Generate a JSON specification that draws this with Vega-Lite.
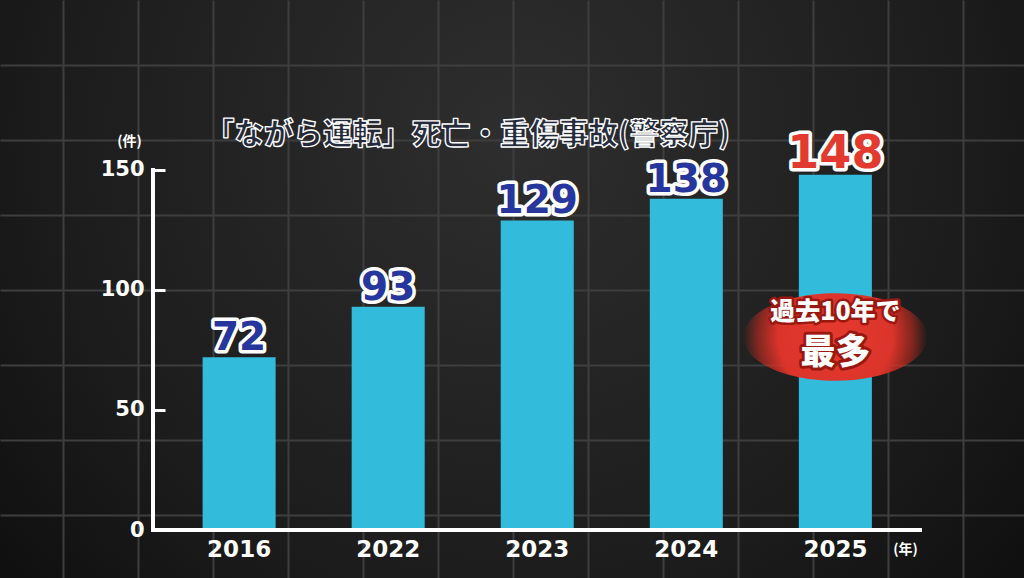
{
  "$schema": "https://vega.github.io/schema/vega-lite/v6.json",
  "width": 1024,
  "height": 578,
  "autosize": {"type": "none"},
  "padding": 0,
  "background": "#111111",
  "title": {
    "text": "「ながら運転」死亡・重傷事故(警察庁)",
    "anchor": "start",
    "frame": "group",
    "dx": 205,
    "offset": -179,
    "baseline": "bottom",
    "font": "Noto Sans CJK JP",
    "fontSize": 29.5,
    "fontWeight": 900,
    "color": "#262b3c",
    "encoding": {
      "stroke": {"value": "#ffffff"},
      "strokeWidth": {"value": 1.3},
      "strokeJoin": {"value": "round"}
    }
  },
  "config": {
    "view": {
      "stroke": null,
      "fill": {
        "gradient": "radial",
        "x1": 0.5, "y1": 0.35, "r1": 0,
        "x2": 0.5, "y2": 0.35, "r2": 0.75,
        "stops": [
          {"offset": 0, "color": "#2e2e2e"},
          {"offset": 0.6, "color": "#1c1c1c"},
          {"offset": 1, "color": "#0a0a0a"}
        ]
      }
    }
  },
  "data": {
    "values": [
      {"year": "2016", "count": 72},
      {"year": "2022", "count": 93},
      {"year": "2023", "count": 129},
      {"year": "2024", "count": 138},
      {"year": "2025", "count": 148, "note": "過去10年で", "note2": "最多"}
    ]
  },
  "layer": [
    {
      "layer": [
        {
          "mark": {"type": "bar", "color": "#32bbdb"},
          "encoding": {
            "x": {
              "field": "year",
              "type": "nominal",
              "scale": {"range": [202.6, 871.9], "paddingInner": 0.51, "paddingOuter": 0},
              "axis": {
                "orient": "bottom",
                "offset": -48,
                "domain": false,
                "ticks": false,
                "grid": false,
                "labelAngle": 0,
                "labelColor": "#ffffff",
                "labelFont": "DejaVu Sans",
                "labelFontWeight": "bold",
                "labelFontSize": 23,
                "labelPadding": 8,
                "title": "(年)",
                "titleX": 905,
                "titleY": 19,
                "titleAlign": "center",
                "titleBaseline": "middle",
                "titleColor": "#ffffff",
                "titleFont": "Noto Sans CJK JP",
                "titleFontSize": 14,
                "titleFontWeight": "bold"
              }
            },
            "y": {
              "field": "count",
              "type": "quantitative",
              "scale": {"domain": [-20, 220.8333], "nice": false, "zero": false},
              "axis": {
                "orient": "left",
                "offset": -153,
                "values": [0, 50, 100, 150],
                "domain": false,
                "grid": false,
                "ticks": true,
                "tickSize": -12,
                "tickWidth": 3,
                "tickColor": "#ffffff",
                "labelColor": "#ffffff",
                "labelFont": "DejaVu Sans",
                "labelFontWeight": "bold",
                "labelFontSize": 21,
                "labelPadding": 21,
                "title": "(件)",
                "titleAngle": 0,
                "titleX": -24,
                "titleY": 141,
                "titleAlign": "center",
                "titleBaseline": "middle",
                "titleColor": "#ffffff",
                "titleFont": "Noto Sans CJK JP",
                "titleFontSize": 14,
                "titleFontWeight": "bold"
              }
            },
            "y2": {"datum": 0}
          }
        },
        {
          "transform": [{"filter": "isValid(datum.note)"}],
          "mark": {
            "type": "point",
            "shape": "M -1 0 A 1 0.475 0 1 1 1 0 A 1 0.475 0 1 1 -1 0 Z",
            "filled": true,
            "size": 34000,
            "opacity": 1,
            "strokeWidth": 0,
            "fill": {
              "gradient": "radial",
              "x1": 0.5, "y1": 0.5, "r1": 0,
              "x2": 0.5, "y2": 0.5, "r2": 0.5,
              "stops": [
                {"offset": 0, "color": "#e53a2e"},
                {"offset": 0.62, "color": "#db342b"},
                {"offset": 0.84, "color": "rgba(210,45,32,0.55)"},
                {"offset": 1, "color": "rgba(210,45,32,0)"}
              ]
            }
          },
          "encoding": {
            "x": {"field": "year", "type": "nominal"},
            "y": {"datum": 80.4}
          }
        },
        {
          "transform": [{"filter": "isValid(datum.note)"}],
          "mark": {"type": "text", "font": "Noto Sans CJK JP", "fontWeight": 900, "fontSize": 25, "baseline": "middle", "dy": -25, "fill": "#9a1810", "stroke": "#9a1810", "strokeWidth": 5, "strokeJoin": "round"},
          "encoding": {
            "x": {"field": "year", "type": "nominal"},
            "y": {"datum": 80.4},
            "text": {"field": "note"}
          }
        },
        {
          "transform": [{"filter": "isValid(datum.note)"}],
          "mark": {"type": "text", "font": "Noto Sans CJK JP", "fontWeight": 900, "fontSize": 25, "baseline": "middle", "dy": -25, "fill": "#ffffff"},
          "encoding": {
            "x": {"field": "year", "type": "nominal"},
            "y": {"datum": 80.4},
            "text": {"field": "note"}
          }
        },
        {
          "transform": [{"filter": "isValid(datum.note2)"}],
          "mark": {"type": "text", "font": "Noto Sans CJK JP", "fontWeight": 900, "fontSize": 35, "baseline": "middle", "dy": 16, "fill": "#9a1810", "stroke": "#9a1810", "strokeWidth": 6, "strokeJoin": "round"},
          "encoding": {
            "x": {"field": "year", "type": "nominal"},
            "y": {"datum": 80.4},
            "text": {"field": "note2"}
          }
        },
        {
          "transform": [{"filter": "isValid(datum.note2)"}],
          "mark": {"type": "text", "font": "Noto Sans CJK JP", "fontWeight": 900, "fontSize": 35, "baseline": "middle", "dy": 16, "fill": "#ffffff"},
          "encoding": {
            "x": {"field": "year", "type": "nominal"},
            "y": {"datum": 80.4},
            "text": {"field": "note2"}
          }
        },
        {
          "mark": {"type": "text", "font": "DejaVu Sans", "fontWeight": "bold", "baseline": "alphabetic", "dy": -7, "fill": "#ffffff", "stroke": "#ffffff", "strokeWidth": 7, "strokeJoin": "round"},
          "encoding": {
            "x": {"field": "year", "type": "nominal"},
            "y": {"field": "count", "type": "quantitative"},
            "text": {"field": "count", "type": "quantitative"},
            "size": {"condition": {"test": "datum.year === '2025'", "value": 46}, "value": 39}
          }
        },
        {
          "mark": {"type": "text", "font": "DejaVu Sans", "fontWeight": "bold", "baseline": "alphabetic", "dy": -7},
          "encoding": {
            "x": {"field": "year", "type": "nominal"},
            "y": {"field": "count", "type": "quantitative"},
            "text": {"field": "count", "type": "quantitative"},
            "size": {"condition": {"test": "datum.year === '2025'", "value": 46}, "value": 39},
            "color": {"condition": {"test": "datum.year === '2025'", "value": "#e23a2e"}, "value": "#26369c"}
          }
        }
      ]
    },
    {
      "layer": [
        {
          "mark": {"type": "point", "opacity": 0},
          "encoding": {
            "x": {
              "field": "count",
              "type": "quantitative",
              "scale": {"domain": [-0.84, 12.8133], "nice": false, "zero": false},
              "axis": {
                "orient": "top",
                "values": [0, 1, 2, 3, 4, 5, 6, 7, 8, 9, 10, 11, 12],
                "grid": true,
                "gridColor": "#3e3e3e",
                "gridWidth": 2,
                "labels": false,
                "ticks": false,
                "domain": false,
                "title": null
              }
            },
            "y": {
              "field": "count",
              "type": "quantitative",
              "axis": {
                "orient": "right",
                "values": [6.25, 37.5, 68.75, 100, 131.25, 162.5, 193.75],
                "grid": true,
                "gridColor": "#3e3e3e",
                "gridWidth": 2,
                "labels": false,
                "ticks": false,
                "domain": false,
                "title": null
              }
            }
          }
        },
        {
          "mark": {"type": "rule", "color": "#ffffff", "strokeWidth": 3.5, "strokeCap": "square"},
          "encoding": {
            "x": {"datum": 1.2, "type": "quantitative"},
            "y": {"datum": 0, "type": "quantitative"},
            "y2": {"datum": 150}
          }
        },
        {
          "mark": {"type": "rule", "color": "#ffffff", "strokeWidth": 3.5, "strokeCap": "square"},
          "encoding": {
            "x": {"datum": 1.2, "type": "quantitative"},
            "x2": {"datum": 11.4267},
            "y": {"datum": 0, "type": "quantitative"}
          }
        }
      ]
    }
  ],
  "resolve": {
    "scale": {"x": "independent"},
    "axis": {"x": "independent", "y": "independent"}
  }
}
